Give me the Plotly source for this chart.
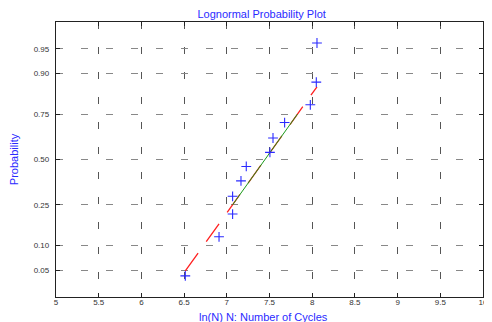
import plotly.graph_objects as go
from statistics import NormalDist

# ---- data ----
log_cycles = [6.514, 6.909, 7.068, 7.068, 7.166, 7.228, 7.505, 7.541, 7.677, 7.978, 8.048, 8.056]
prob_ticks = [0.05, 0.10, 0.25, 0.50, 0.75, 0.90, 0.95]
prob_labels = ["0.05", "0.10", "0.25", "0.50", "0.75", "0.90", "0.95"]
x_ticks = [5, 5.5, 6, 6.5, 7, 7.5, 8, 8.5, 9, 9.5, 10]
x_labels = ["5", "5.5", "6", "6.5", "7", "7.5", "8", "8.5", "9", "9.5", "10"]

nd = NormalDist()
xs = sorted(log_cycles)
n = len(xs)
z_pts = [nd.inv_cdf((i + 0.5) / n) for i in range(n)]


def prctile(vals, p):
    pos = n * p + 0.5  # 1-based (MATLAB style)
    lo = int(pos)
    frac = pos - lo
    lo = max(1, min(n, lo))
    hi = max(1, min(n, lo + 1))
    return vals[lo - 1] + frac * (vals[hi - 1] - vals[lo - 1])


q1, q3 = prctile(xs, 0.25), prctile(xs, 0.75)
z1, z3 = nd.inv_cdf(0.25), nd.inv_cdf(0.75)
slope = (z3 - z1) / (q3 - q1)


def zline(x):
    return z1 + slope * (x - q1)


blue = "#2a2aff"
font_fam = "Liberation Sans, Arial, sans-serif"
fig = go.Figure()
# dashed reference line over the data range
fig.add_trace(go.Scatter(x=[xs[0], xs[-1]], y=[zline(xs[0]), zline(xs[-1])], mode="lines",
                         line=dict(color="#ff2020", width=1.3, dash="22px,14px"),
                         hoverinfo="skip", showlegend=False))
# solid segment between quartiles
fig.add_trace(go.Scatter(x=[q1, q3], y=[z1, z3], mode="lines",
                         line=dict(color="#1a9a1a", width=1),
                         hoverinfo="skip", showlegend=False))
fig.add_trace(go.Scatter(x=xs, y=z_pts, mode="markers",
                         marker=dict(symbol="cross-thin", size=7,
                                     line=dict(color=blue, width=1.1)),
                         showlegend=False))

axis_font = dict(family=font_fam, size=8, color="#333")
# the page body adds an 8px offset, so the figure is 8px smaller on each axis
fig.update_layout(
    width=484, height=314,
    margin=dict(l=48, r=9, t=14, b=25, autoexpand=False),
    paper_bgcolor="white", plot_bgcolor="white",
    title=dict(text="Lognormal Probability Plot", x=0.524, xref="container", xanchor="center",
               y=1, yref="container", yanchor="top", pad=dict(t=2), automargin=False,
               font=dict(family=font_fam, size=11, color=blue)),
    xaxis=dict(range=[5, 10], tickvals=x_ticks, ticktext=x_labels, automargin=False,
               showline=True, linecolor="#222", linewidth=1.3, mirror="ticks",
               ticks="inside", ticklen=4, tickcolor="#222", ticklabelstandoff=-3,
               showgrid=True, gridcolor="#555", gridwidth=1, griddash="7px,18px",
               zeroline=False, tickfont=axis_font),
    yaxis=dict(range=[-2.046, 2.044], tickvals=[nd.inv_cdf(p) for p in prob_ticks],
               ticktext=prob_labels, automargin=False,
               showline=True, linecolor="#222", linewidth=1.3, mirror="ticks",
               ticks="inside", ticklen=4, tickcolor="#222", ticklabelstandoff=4,
               showgrid=True, gridcolor="#888", gridwidth=1, griddash="7px,18px",
               zeroline=False, tickfont=axis_font,
               title=dict(text="Probability", standoff=15,
                          font=dict(family=font_fam, size=11, color=blue))),
    annotations=[dict(text="ln(N) N: Number of Cycles", xref="paper", yref="paper",
                      x=0.487, y=0, yshift=-20, xanchor="center", yanchor="middle",
                      showarrow=False, font=dict(family=font_fam, size=11, color=blue))],
)
fig.write_html("out.html")
